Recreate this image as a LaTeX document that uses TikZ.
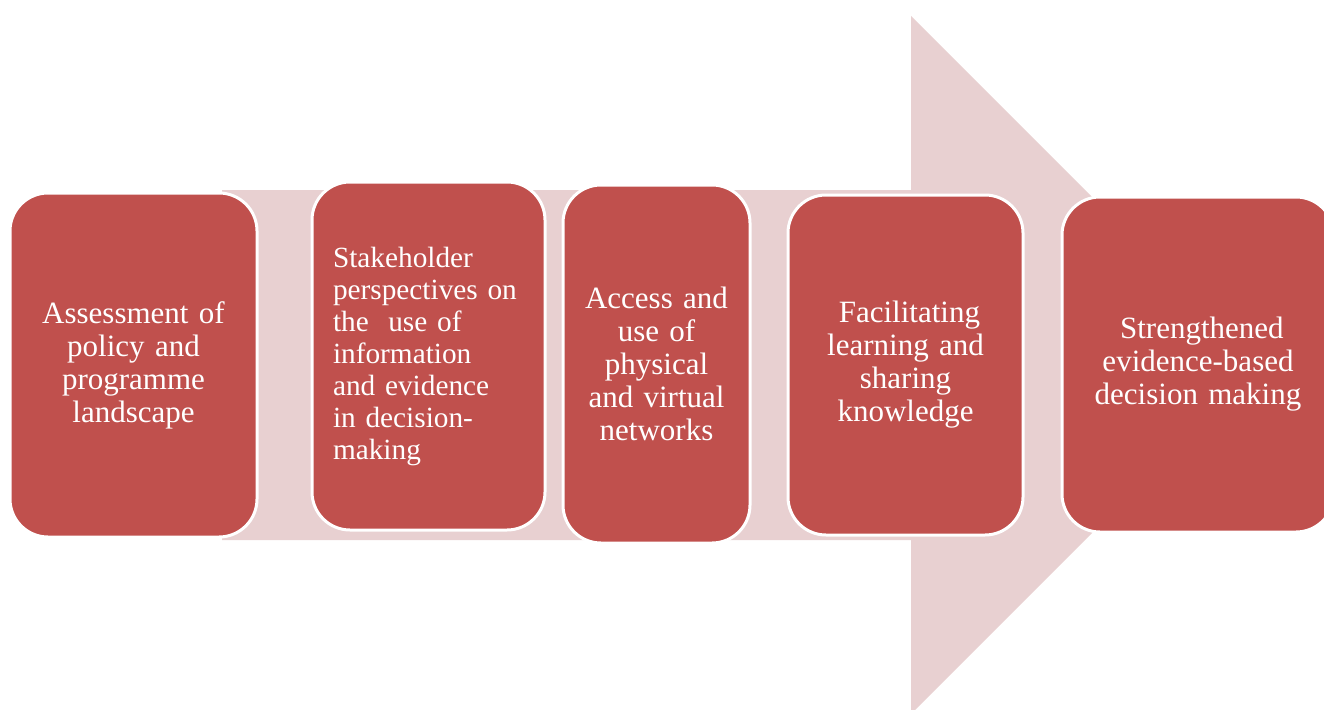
\documentclass[tikz,border=0pt]{standalone}
\usepackage{fontspec}
\setmainfont{Liberation Serif}[WordSpace=0.8]
\definecolor{stepred}{HTML}{C0504D}
\definecolor{flowpink}{HTML}{E8D0D1}
\begin{document}
\begin{tikzpicture}[x=1pt,y=-1pt,
  stage/.style={draw=white, line width=3pt, fill=stepred, rounded corners=38pt,
    text=white, font=\fontsize{31}{33}\selectfont, inner sep=0pt}]
\useasboundingbox (0,0) rectangle (1324,709);
\clip (0,0) rectangle (1324,709);
% broad background arrow
\fill[flowpink] (222,190) -- (911,190) -- (911,16) -- (1260,365) -- (911,714)
  -- (911,540) -- (222,540) -- cycle;
% the five stages
\node[stage, minimum width=247pt, minimum height=344pt, text width=230pt, align=center]
  (s1) at (133.5,365) {Assessment of\\policy and\\programme\\landscape};
\node[stage, minimum width=233pt, minimum height=348pt, text width=191pt, align=left,
  font=\fontsize{29.3}{32}\selectfont]
  (s2) at (428.5,356) {Stakeholder\\perspectives~on\\the~\ use~of\\information\\and~evidence\\in~decision-\\making};
\node[stage, minimum width=187pt, minimum height=358pt, text width=175pt, align=center]
  (s3) at (656.5,364) {Access and\\use of\\physical\\and virtual\\networks};
\node[stage, minimum width=235pt, minimum height=340pt, text width=215pt, align=center]
  (s4) at (905.5,365) {\hspace*{0.25em}Facilitating\\learning and\\sharing\\knowledge};
\node[stage, minimum width=272pt, minimum height=335pt, text width=250pt, align=center]
  (s5) at (1198,364.5) {\hspace*{0.25em}Strengthened\\evidence-based\\decision making};
\end{tikzpicture}
\end{document}
